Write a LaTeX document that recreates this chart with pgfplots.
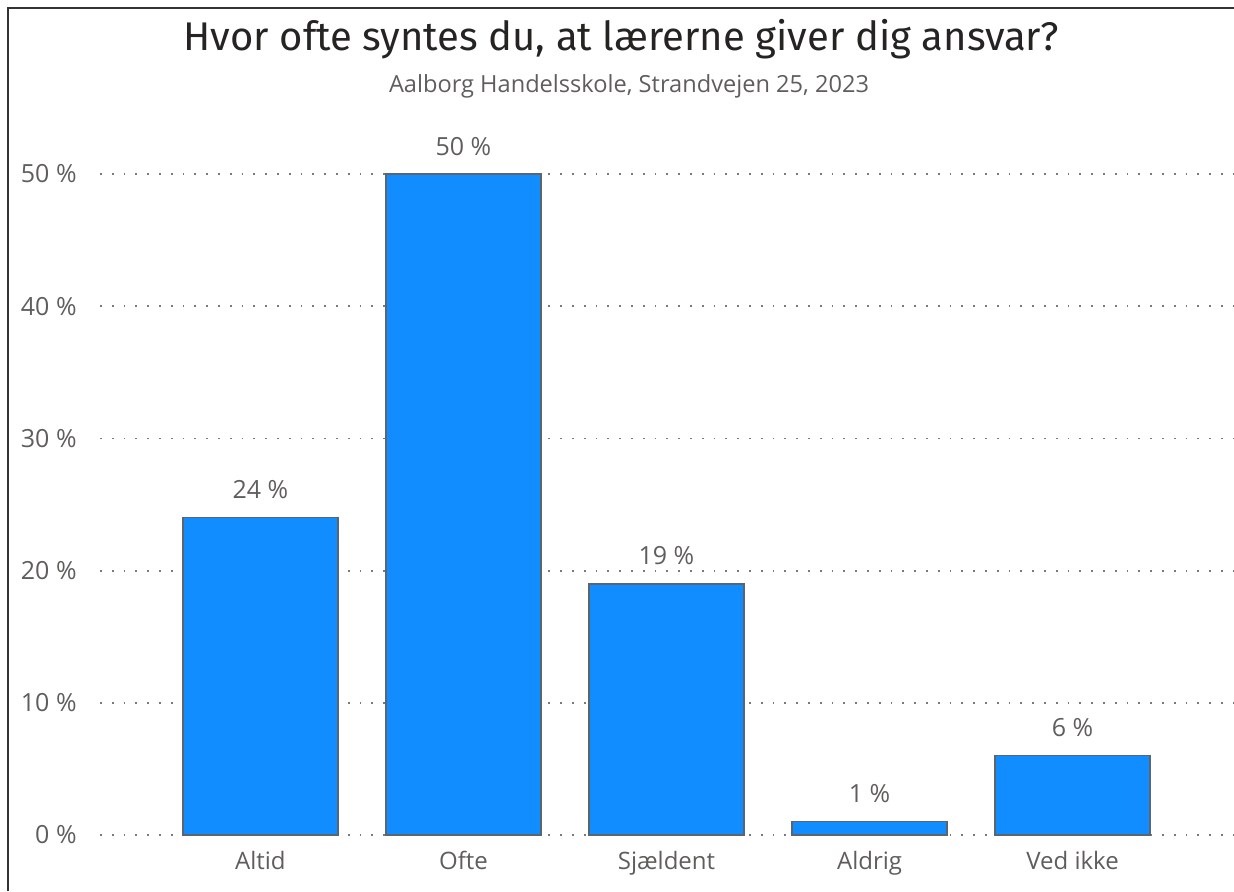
\documentclass[border=0pt]{standalone}
\usepackage{pgfplots}
\pgfplotsset{compat=1.18}
\usepackage{fontspec}
\setmainfont{Open Sans}
\newfontfamily\titlefont{Fira Sans}
\definecolor{barblue}{HTML}{118DFF}
\definecolor{baredge}{HTML}{5A6570}
\definecolor{ticktext}{HTML}{605E5C}
\definecolor{titletext}{HTML}{252423}
\definecolor{gridc}{HTML}{7A7A7A}
\begin{document}
\begin{tikzpicture}
\useasboundingbox (0pt,0pt) rectangle (617pt,445.5pt);
\draw[line width=0.8pt, color=black!80] (4pt,0pt) -- (4pt,441.5pt) -- (617pt,441.5pt);
\node[font=\titlefont\fontsize{20}{23}\selectfont, text=titletext] at (310.5pt,426pt) {Hvor ofte syntes du, at lærerne giver dig ansvar?};
\node[font=\fontsize{11.8}{14}\selectfont, text=ticktext] at (314.5pt,402.5pt) {Aalborg Handelsskole, Strandvejen 25, 2023};
\begin{axis}[
  at={(50pt,28pt)}, anchor=south west,
  scale only axis, width=567pt, height=330.5pt,
  xmin=-0.79, xmax=4.795, ymin=0, ymax=50,
  axis line style={draw=none},
  major tick length=0pt,
  xtick={0,1,2,3,4},
  xticklabels={Altid, Ofte, Sjældent, Aldrig, Ved ikke},
  ytick={0,10,20,30,40,50},
  yticklabels={0 \%,10 \%,20 \%,30 \%,40 \%,50 \%},
  xticklabel style={anchor=base, inner sep=0pt, yshift=-17pt, font=\fontsize{12}{14}\selectfont, text=ticktext},
  yticklabel style={anchor=east, inner sep=0pt, xshift=-11.5pt, font=\fontsize{12.5}{14}\selectfont, text=ticktext},
  ymajorgrids,
  grid style={gridc, line width=0.9pt, dash pattern=on 0.9pt off 5pt},
  ybar, bar width=77.5pt,
  nodes near coords={\pgfmathprintnumber[assume math mode=true]{\pgfplotspointmeta}~\%},
  every node near coord/.append style={anchor=south, inner sep=0pt, yshift=9pt, font=\fontsize{12.5}{14}\selectfont, text=ticktext},
  clip=false,
]
\addplot[fill=barblue, draw=baredge, line width=0.7pt] coordinates {(0,24) (1,50) (2,19) (3,1) (4,6)};
\end{axis}
\end{tikzpicture}
\end{document}
